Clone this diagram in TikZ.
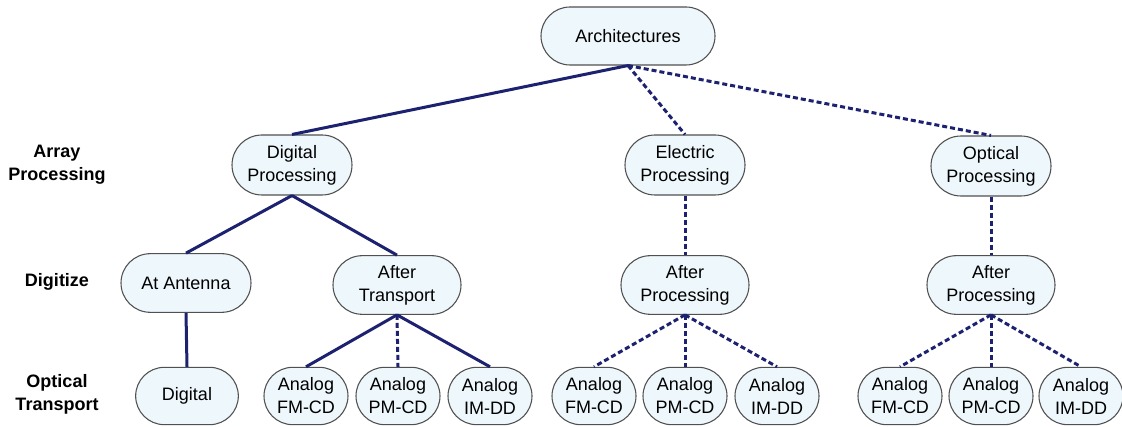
\documentclass[tikz,border=0pt]{standalone}
\usepackage{fontspec}
\setmainfont{Liberation Sans}
\usetikzlibrary{shapes.misc}
\definecolor{navy}{HTML}{1C2170}
\definecolor{boxfill}{HTML}{EEF7FB}
\definecolor{boxline}{HTML}{505050}
\begin{document}
\begin{tikzpicture}[x=0.75pt,y=-0.75pt,
  font=\fontsize{13.5}{17.25}\selectfont,
  box/.style={rounded rectangle, draw=boxline, line width=0.8pt, fill=boxfill,
    align=center, inner sep=0pt, minimum height=44pt},
  top/.style={box, minimum width=130.5pt, minimum height=43.5pt},
  mid/.style={box, minimum width=90pt, minimum height=45pt},
  dig/.style={box, minimum width=96pt, minimum height=44pt},
  leaf/.style={box, minimum width=63pt, minimum height=43pt},
  lvl/.style={font=\fontsize{13.5}{17.25}\selectfont\bfseries, align=center},
  solidlink/.style={draw=navy, line width=2.25pt},
  dashlink/.style={draw=navy, line width=2.25pt, dash pattern=on 3.75pt off 2.25pt}]
\useasboundingbox (0,0) rectangle (1122,427);

% row labels
\node[lvl] (l1) at (57,165) {Array\\Processing};
\node[lvl] (l2) at (57,282) {Digitize};
\node[lvl] (l3) at (57,394) {Optical\\Transport};

% nodes
\node[top] (arch) at (628,36) {Architectures};
\node[mid] (dp) at (292,165) {Digital\\Processing};
\node[mid] (ep) at (685,165) {Electric\\Processing};
\node[mid] (op) at (991,166) {Optical\\Processing};

\node[dig, minimum width=97.5pt] (aa) at (186,283) {At Antenna};
\node[dig] (at) at (397,285) {After\\Transport};
\node[dig] (ape) at (685,285) {After\\Processing};
\node[dig] (apo) at (991,285) {After\\Processing};

\node[leaf, minimum width=77pt] (dg) at (187,396) {Digital};
\node[leaf] (t1) at (306,396) {Analog\\FM-CD};
\node[leaf] (t2) at (398,396) {Analog\\PM-CD};
\node[leaf] (t3) at (490,396) {Analog\\IM-DD};
\node[leaf] (e1) at (594,396) {Analog\\FM-CD};
\node[leaf] (e2) at (685,396) {Analog\\PM-CD};
\node[leaf] (e3) at (777,396) {Analog\\IM-DD};
\node[leaf] (o1) at (900,396) {Analog\\FM-CD};
\node[leaf] (o2) at (991,396) {Analog\\PM-CD};
\node[leaf] (o3) at (1081,396) {Analog\\IM-DD};

% connectors
\draw[solidlink] (arch.south) -- (dp.north);
\draw[dashlink] (arch.south) -- (ep.north);
\draw[dashlink] (arch.south) -- (op.north);

\draw[solidlink] (dp.south) -- (aa.north);
\draw[solidlink] (dp.south) -- (at.north);
\draw[dashlink] (ep.south) -- (ape.north);
\draw[dashlink] (op.south) -- (apo.north);

\draw[solidlink] (aa.south) -- (dg.north);
\draw[solidlink] (at.south) -- (t1.north);
\draw[dashlink] (at.south) -- (t2.north);
\draw[solidlink] (at.south) -- (t3.north);

\draw[dashlink] (ape.south) -- (e1.north);
\draw[dashlink] (ape.south) -- (e2.north);
\draw[dashlink] (ape.south) -- (e3.north);

\draw[dashlink] (apo.south) -- (o1.north);
\draw[dashlink] (apo.south) -- (o2.north);
\draw[dashlink] (apo.south) -- (o3.north);
\end{tikzpicture}
\end{document}
